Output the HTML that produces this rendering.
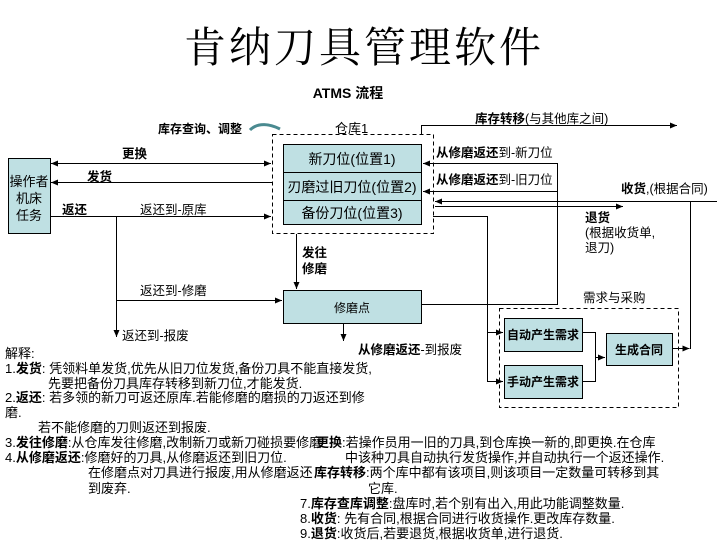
<!DOCTYPE html>
<html><head><meta charset="utf-8"><style>
html,body{margin:0;padding:0;background:#fff;width:717px;height:547px;overflow:hidden}
svg text{font-family:"Liberation Sans","Noto Sans CJK SC",sans-serif;fill:#000}
.b{font-weight:bold}
</style></head><body>
<svg width="717" height="547" viewBox="0 0 717 547" xmlns="http://www.w3.org/2000/svg">
<defs>
<marker id="a" markerWidth="8" markerHeight="8" refX="7" refY="4" orient="auto" markerUnits="userSpaceOnUse"><path d="M0,1 L7,4 L0,7 z" fill="#000"/></marker>
<marker id="s" markerWidth="8" markerHeight="8" refX="1" refY="4" orient="auto" markerUnits="userSpaceOnUse"><path d="M8,1 L1,4 L8,7 z" fill="#000"/></marker>
</defs>
<text x="364" y="62" text-anchor="middle" style="font-family:'Noto Serif CJK SC','Liberation Serif',serif;font-size:42px;letter-spacing:3px">肯纳刀具管理软件</text>
<text x="348" y="98" text-anchor="middle" class="b" font-size="14">ATMS 流程</text>

<g fill="#bfe0e3" stroke="#000" stroke-width="1">
<rect x="8.5" y="158.5" width="42" height="75"/>
<rect x="283.5" y="144.5" width="138" height="80"/>
<rect x="283.5" y="290.5" width="138" height="33"/>
<rect x="504.5" y="318.5" width="78" height="33"/>
<rect x="504.5" y="365.5" width="78" height="33"/>
<rect x="606.5" y="333.5" width="66" height="32"/>
</g>
<line x1="283" y1="172.5" x2="421" y2="172.5" stroke="#000"/>
<line x1="283" y1="200.5" x2="421" y2="200.5" stroke="#000"/>
<rect x="272.5" y="134.5" width="161" height="99" fill="none" stroke="#000" stroke-dasharray="4,3"/>
<rect x="499.5" y="308.5" width="179" height="99" fill="none" stroke="#000" stroke-dasharray="4,3"/>

<text x="29" y="186" text-anchor="middle" font-size="13">操作者</text>
<text x="29" y="203" text-anchor="middle" font-size="13">机床</text>
<text x="29" y="220" text-anchor="middle" font-size="13">任务</text>
<text x="352" y="164" text-anchor="middle" font-size="14">新刀位(位置1)</text>
<text x="352" y="192" text-anchor="middle" font-size="14">刃磨过旧刀位(位置2)</text>
<text x="352" y="218" text-anchor="middle" font-size="14">备份刀位(位置3)</text>
<text x="352" y="312" text-anchor="middle" font-size="12">修磨点</text>
<text x="543" y="339" text-anchor="middle" font-size="12" class="b">自动产生需求</text>
<text x="543" y="386" text-anchor="middle" font-size="12" class="b">手动产生需求</text>
<text x="639" y="354" text-anchor="middle" font-size="12" class="b">生成合同</text>
<text x="335" y="133" font-size="13">仓库1</text>
<text x="158" y="133" font-size="12" class="b">库存查询、调整</text>
<path d="M250,130 C258,122 270,124 280,129" fill="none" stroke="#4a8a90" stroke-width="3"/>

<g stroke="#000" stroke-width="1" fill="none">
<line x1="51" y1="163.5" x2="271" y2="163.5" marker-start="url(#s)" marker-end="url(#a)"/>
<line x1="272" y1="182.5" x2="51" y2="182.5" marker-end="url(#a)"/>
<line x1="51" y1="216.5" x2="271" y2="216.5" marker-end="url(#a)"/>
<line x1="116.5" y1="216" x2="116.5" y2="337" marker-end="url(#a)"/>
<line x1="116" y1="300.5" x2="282" y2="300.5" marker-end="url(#a)"/>
<line x1="296.5" y1="234" x2="296.5" y2="289" marker-end="url(#a)"/>
<line x1="343.5" y1="324" x2="343.5" y2="341" marker-end="url(#a)"/>
<polyline points="422,304.5 557.5,304.5 557.5,163.5 423,163.5" marker-end="url(#a)"/>
<line x1="557" y1="191.5" x2="423" y2="191.5" marker-end="url(#a)"/>
<polyline points="421.5,134 421.5,125.5 677,125.5" marker-end="url(#a)"/>
<line x1="717" y1="201.5" x2="435" y2="201.5" marker-end="url(#a)"/>
<line x1="435" y1="206.5" x2="623" y2="206.5" marker-end="url(#a)"/>
<polyline points="433,216.5 487.5,216.5 487.5,381.5 503,381.5" marker-end="url(#a)"/>
<line x1="487" y1="332.5" x2="503" y2="332.5" marker-end="url(#a)"/>
<polyline points="583,332.5 595.5,332.5 595.5,381.5 583,381.5"/>
<line x1="595" y1="357.5" x2="605" y2="357.5" marker-end="url(#a)"/>
<polyline points="673,348.5 689.5,348.5" marker-end="url(#a)"/>
<line x1="690.5" y1="201" x2="690.5" y2="349"/>
</g>

<g font-size="12.5">
<text x="122" y="158" class="b">更换</text>
<text x="87" y="181" class="b">发货</text>
<text x="62" y="214" class="b">返还</text>
<text x="140" y="214">返还到-原库</text>
<text x="140" y="295">返还到-修磨</text>
<text x="122" y="340">返还到-报废</text>
<text x="302" y="257" class="b">发往</text>
<text x="302" y="273" class="b">修磨</text>
<text x="358" y="354"><tspan class="b">从修磨返还</tspan>-到报废</text>
<text x="436" y="157"><tspan class="b">从修磨返还</tspan>到-新刀位</text>
<text x="436" y="184"><tspan class="b">从修磨返还</tspan>到-旧刀位</text>
<text x="475" y="123"><tspan class="b">库存转移</tspan>(与其他库之间)</text>
<text x="621" y="193"><tspan class="b">收货</tspan>,(根据合同)</text>
<text x="585" y="222" class="b">退货</text>
<text x="585" y="237">(根据收货单,</text>
<text x="585" y="252">退刀)</text>
<text x="583" y="302">需求与采购</text>
</g>

<g font-size="13">
<text x="5" y="358">解释:</text>
<text x="5" y="373">1.<tspan class="b">发货</tspan>: 凭领料单发货,优先从旧刀位发货,备份刀具不能直接发货,</text>
<text x="48" y="388">先要把备份刀具库存转移到新刀位,才能发货.</text>
<text x="5" y="402">2.<tspan class="b">返还</tspan>: 若多领的新刀可返还原库.若能修磨的磨损的刀返还到修</text>
<text x="5" y="417">磨.</text>
<text x="38" y="432">若不能修磨的刀则返还到报废.</text>
<text x="5" y="447">3.<tspan class="b">发往修磨</tspan>:从仓库发往修磨,改制新刀或新刀碰损要修磨</text>
<text x="316" y="447"><tspan class="b">更换</tspan>:若操作员用一旧的刀具,到仓库换一新的,即更换.在仓库</text>
<text x="5" y="462">4.<tspan class="b">从修磨返还</tspan>:修磨好的刀具,从修磨返还到旧刀位.</text>
<text x="345" y="462">中该种刀具自动执行发货操作,并自动执行一个返还操作.</text>
<text x="88" y="477">在修磨点对刀具进行报废,用从修磨返还</text>
<text x="314" y="477"><tspan class="b">库存转移</tspan>:两个库中都有该项目,则该项目一定数量可转移到其</text>
<text x="88" y="493">到废弃.</text>
<text x="368" y="493">它库.</text>
<text x="300" y="508">7.<tspan class="b">库存查库调整</tspan>:盘库时,若个别有出入,用此功能调整数量.</text>
<text x="300" y="523">8.<tspan class="b">收货</tspan>: 先有合同,根据合同进行收货操作.更改库存数量.</text>
<text x="300" y="538">9.<tspan class="b">退货</tspan>:收货后,若要退货,根据收货单,进行退货.</text>
</g>
</svg>
</body></html>
